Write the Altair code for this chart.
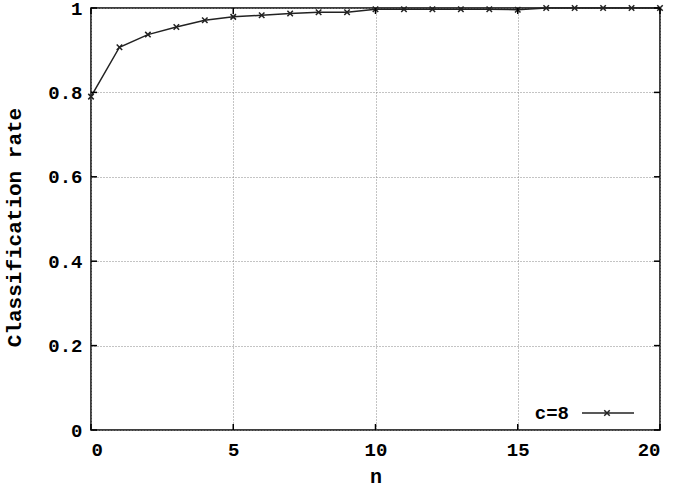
import altair as alt
import pandas as pd

n_values = list(range(21))
rates = [0.79, 0.907, 0.937, 0.955, 0.971, 0.979, 0.983, 0.987, 0.990, 0.990,
         0.997, 0.997, 0.997, 0.997, 0.997, 0.996, 1.0, 1.0, 1.0, 1.0, 1.0]
x_ticks = [0, 5, 10, 15, 20]
y_ticks = [0, 0.2, 0.4, 0.6, 0.8, 1.0]
series_label = ["c=8"]

FONT = "Liberation Mono"
W, H = 569, 422

df = pd.DataFrame({"n": n_values, "rate": rates})
xt = pd.DataFrame({"t": x_ticks})
yt = pd.DataFrame({"t": y_ticks})
lg = pd.DataFrame({"label": series_label})

xscale = alt.Scale(domain=[0, 20], nice=False, zero=False)
yscale = alt.Scale(domain=[0, 1], nice=False)

xenc = alt.X("n:Q", scale=xscale, title="n",
             axis=alt.Axis(values=x_ticks, format="d", labelFont=FONT, labelFontSize=19,
                           labelFontWeight="bold", labelColor="black", labelPadding=10,
                           titleFont=FONT, titleFontSize=20, titleFontWeight="bold",
                           titleY=36, titleBaseline="top", titleColor="black",
                           grid=True, gridDash=[1, 2], gridColor="#888888", gridWidth=1,
                           domain=False, ticks=False))
yenc = alt.Y("rate:Q", scale=yscale, title="Classification rate",
             axis=alt.Axis(values=y_ticks, labelFont=FONT, labelFontSize=19,
                           labelFontWeight="bold", labelColor="black", labelPadding=9,
                           labelExpr="datum.value == 0 ? '0' : datum.value == 1 ? '1' : format(datum.value, '.1f')",
                           titleFont=FONT, titleFontSize=21, titleFontWeight="bold",
                           titleColor="black", titleX=-77, titleY=H / 2 + 8, titleAngle=270,
                           titleBaseline="middle", titleAlign="center",
                           grid=True, gridDash=[1, 2], gridColor="#888888", gridWidth=1,
                           domain=False, ticks=False))

line = alt.Chart(df).mark_line(color="#222222", strokeWidth=1.5).encode(x=xenc, y=yenc)
pts = alt.Chart(df).mark_point(shape="M-1,-1L1,1M-1,1L1,-1", filled=False, color="#222222",
                               size=30, strokeWidth=1.5, opacity=1).encode(
    x=alt.X("n:Q", scale=xscale), y=alt.Y("rate:Q", scale=yscale))

tick_len = 6
xt_bot = alt.Chart(xt).mark_rule(color="black", strokeWidth=1.5).encode(
    x=alt.X("t:Q", scale=xscale), y=alt.value(H), y2=alt.value(H - tick_len))
xt_top = alt.Chart(xt).mark_rule(color="black", strokeWidth=1.5).encode(
    x=alt.X("t:Q", scale=xscale), y=alt.value(0), y2=alt.value(tick_len))
yt_left = alt.Chart(yt).mark_rule(color="black", strokeWidth=1.5).encode(
    y=alt.Y("t:Q", scale=yscale), x=alt.value(0), x2=alt.value(tick_len))
yt_right = alt.Chart(yt).mark_rule(color="black", strokeWidth=1.5).encode(
    y=alt.Y("t:Q", scale=yscale), x=alt.value(W), x2=alt.value(W - tick_len))

leg_y = 405
leg_text = alt.Chart(lg).mark_text(font=FONT, fontSize=19, fontWeight="bold", align="right",
                                   baseline="middle", color="black").encode(
    text="label:N", x=alt.value(569 - 91), y=alt.value(leg_y))
leg_line = alt.Chart(lg).mark_rule(color="#222222", strokeWidth=1.5).encode(
    x=alt.value(582 - 91), x2=alt.value(634 - 91), y=alt.value(leg_y))
leg_pt = alt.Chart(lg).mark_point(shape="M-1,-1L1,1M-1,1L1,-1", filled=False, color="#222222",
                                  size=30, strokeWidth=1.5, opacity=1).encode(
    x=alt.value(607 - 91), y=alt.value(leg_y))

chart = alt.layer(line, pts, xt_bot, xt_top, yt_left, yt_right, leg_text, leg_line, leg_pt).properties(
    width=W, height=H,
    autosize=alt.AutoSizeParams(type="none"),
    padding={"left": 91, "top": 8, "right": 15, "bottom": 54},
    background="white",
).configure_view(stroke="black", strokeWidth=1.5)

chart.save("out.html", embed_options={"renderer": "svg", "actions": False})
